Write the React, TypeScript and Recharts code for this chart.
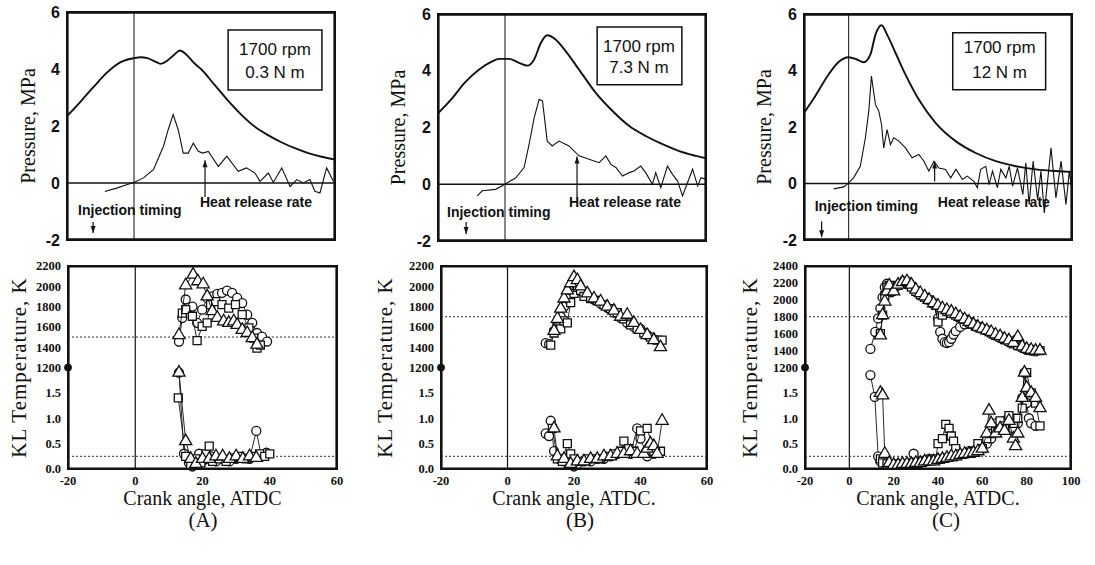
import React from "react";
import {
  ComposedChart,
  Line,
  Scatter,
  XAxis,
  YAxis,
  ZAxis,
  ReferenceLine,
  ReferenceDot,
  ReferenceArea,
} from "recharts";

type Pt = [number, number];

// ---- top panels: cylinder pressure and heat release rate vs crank angle ----
const pressureA: Pt[] = [
  [-20, 2.35], [-16, 2.85], [-12, 3.38], [-8, 3.88], [-4, 4.24], [0, 4.38], [2, 4.41], [4, 4.38],
  [6, 4.28], [8, 4.18], [10, 4.3], [12, 4.5], [13.7, 4.65], [15.5, 4.52], [18, 4.2], [20, 4.0],
  [24, 3.45], [28, 2.9], [32, 2.4], [36, 1.98], [40, 1.68], [44, 1.43], [48, 1.22], [52, 1.05],
  [56, 0.92], [60, 0.82],
];
const heatA: Pt[] = [
  [-8.7, -0.3], [-5.2, -0.18], [-2.2, -0.06], [0, 0.02], [2.8, 0.18], [5.8, 0.47], [8.8, 1.29],
  [10.2, 1.87], [11.7, 2.4], [13.2, 1.87], [14.7, 1.05], [16.2, 1.05], [17.7, 1.4], [19.2, 1.11],
  [20.5, 1.05], [22.2, 1.11], [25.2, 0.58], [27.7, 0.94], [31.1, 0.41], [33.6, 0.53], [36.1, 0.35],
  [37.6, 0.06], [40.1, 0.35], [41.6, 0.02], [44.1, 0.53], [46.6, -0.12], [48.6, 0.12], [50.6, 0],
  [52.5, 0.12], [54, -0.29], [55.5, -0.35], [57.5, 0.53], [59.5, 0.06],
];
const pressureB: Pt[] = [
  [-20, 2.5], [-16, 3.0], [-12, 3.58], [-8, 4.02], [-4, 4.32], [-1.8, 4.42], [1.2, 4.42],
  [4.2, 4.28], [6.7, 4.18], [8.7, 4.4], [10.7, 4.98], [12.6, 5.25], [15.1, 5.1], [18.1, 4.69],
  [22.1, 4.04], [27.1, 3.22], [32.1, 2.58], [37.1, 2.05], [42, 1.7], [47, 1.41], [52, 1.17],
  [57, 1.0], [60, 0.91],
];
const heatB: Pt[] = [
  [-8.3, -0.41], [-6.8, -0.23], [-2.8, -0.18], [0, 0], [3.2, 0.23], [5.7, 0.59], [7.2, 1.41],
  [8.7, 2.34], [10.2, 2.99], [11.2, 2.93], [12.6, 1.52], [14.1, 1.35], [16.1, 1.52], [19.1, 1.35],
  [22.1, 1.0], [25.1, 0.88], [28.1, 0.76], [30.1, 1.0], [31.6, 0.7], [33.1, 0.59], [35.1, 0.29],
  [37.1, 0.41], [38.5, 0.47], [40.5, 0.64], [42, 0.41], [44, 0], [45, 0.41], [46.5, -0.12],
  [48.5, 0.64], [50, 0.35], [51.5, 0.12], [53, -0.41], [54.5, 0.06], [56, 0.53], [57.5, -0.06],
  [58.5, 0.23], [59.8, 0.18],
];
const pressureC: Pt[] = [
  [-20, 2.5], [-15, 3.09], [-9, 3.86], [-4.5, 4.3], [0, 4.47], [3.7, 4.39], [6.7, 4.29],
  [9.7, 4.56], [12, 5.27], [14.7, 5.6], [17.2, 5.27], [21, 4.62], [25.4, 3.86], [31.4, 2.97],
  [38.9, 2.15], [47.9, 1.5], [56.9, 1.08], [65.9, 0.79], [74.9, 0.61], [83.8, 0.5], [92.8, 0.44],
  [100, 0.41],
];
const heatC: Pt[] = [
  [-6.7, -0.19], [-2.2, -0.12], [0, 0.02], [2.2, 0.2], [5.2, 0.61], [7.5, 1.62], [9, 2.56],
  [10.2, 3.8], [12, 2.79], [13.5, 2.56], [14.7, 2.09], [15.7, 1.26], [17.2, 1.91], [18.7, 1.38],
  [20.2, 1.62], [22.5, 1.5], [25.4, 1.26], [28.4, 0.91], [31.4, 1.03], [33.7, 0.79], [35.9, 0.44],
  [38.2, 0.79], [40.4, 0.55], [43.4, 0.5], [45.7, 0.2], [48, 0.5], [51, 0.14], [53.1, 0.26],
  [56.1, 0.08], [57.6, -0.15], [59.1, 0.5], [61.4, 0.61], [62.9, -0.04], [64.4, 0.44],
  [66.6, -0.15], [68.1, 0.5], [70.4, 0.2], [71.9, 0.61], [73.4, -0.09], [75.6, 0.55], [78, -0.39],
  [79.3, 0.73], [80.8, -0.74], [82.6, 0.79], [84.6, -0.57], [86.1, 0.44], [87.6, -1.04],
  [90.6, 1.26], [92.8, -0.51], [95.1, 0.79], [97.3, -0.74], [98.8, 0.44], [100, -0.27],
];

// ---- bottom panels: flame temperature (K) ----
const tempCircleA: Pt[] = [
  [13, 1455], [14, 1690], [15, 1870], [16, 1790], [17, 1800], [18.4, 1640], [19.9, 1770],
  [21.4, 1885], [22.9, 1900], [24.4, 1925], [25.8, 1935], [27.3, 1958], [28.8, 1935], [30.3, 1885],
  [31.8, 1835], [33.3, 1720], [34.8, 1640], [36.2, 1540], [37.7, 1505], [39.2, 1455],
];
const tempSquareA: Pt[] = [
  [14, 1735], [15, 1770], [17, 1705], [18.4, 1465], [19.9, 1605], [21.4, 1640], [22.4, 1820],
  [23.9, 1850], [25.8, 1820], [27.8, 1785], [29.8, 1820], [31.8, 1720], [33.8, 1590], [35.2, 1490],
  [36.2, 1390], [37.2, 1420],
];
const tempTriangleA: Pt[] = [
  [13, 1520], [15, 2010], [17.2, 2115], [18.6, 2050], [20.2, 2020], [21.4, 1900], [22.9, 1755],
  [24.4, 1690], [26.3, 1655], [27.8, 1640], [29.3, 1655], [30.3, 1620], [31.8, 1570], [33.3, 1540],
  [34.8, 1490], [36.2, 1425],
];
const tempCircleB: Pt[] = [
  [11.5, 1440], [12.5, 1430], [14, 1560], [15, 1620], [16, 1700], [17, 1800], [18, 1880],
  [19, 1960], [20, 2010], [21, 2000], [22, 1950], [24, 1900], [26, 1870], [28, 1830], [30, 1790],
  [32, 1740], [34, 1690], [36, 1640], [38, 1600], [40, 1580], [42, 1520], [44, 1480],
];
const tempSquareB: Pt[] = [
  [13, 1420], [14, 1540], [15, 1600], [16, 1580], [17, 1660], [18, 1640], [19, 1840], [20, 1930],
  [21, 1990], [22, 1960], [23, 1900], [25, 1880], [27, 1860], [29, 1820], [31, 1780], [33, 1740],
  [35, 1680], [37, 1620], [39, 1580], [41, 1540], [43, 1500], [45, 1470], [46.5, 1470],
];
const tempTriangleB: Pt[] = [
  [14, 1560], [15, 1680], [16, 1780], [17, 1880], [18, 1960], [19, 2030], [20, 2090], [21, 2060],
  [22, 2000], [24, 1930], [26, 1880], [28, 1850], [30, 1800], [32, 1760], [34, 1700], [36, 1720],
  [38, 1640], [40, 1570], [42, 1520], [44, 1470], [46, 1400],
];
const tempCircleC: Pt[] = [
  [9.5, 1420], [11.7, 1620], [13, 1780], [14, 1900], [15, 2030], [16, 2150], [17, 2190],
  [18, 2120], [19, 2090], [20, 2130], [22, 2170], [24, 2200], [26, 2210], [28, 2160], [30, 2110],
  [32, 2070], [34, 2030], [36, 2000], [38, 1950], [40, 1780], [41, 1620], [42, 1540], [43, 1500],
  [44, 1490], [45, 1500], [46, 1540], [47, 1590], [48, 1630], [50, 1680], [52, 1710], [54, 1720],
  [56, 1700], [58, 1680], [60, 1660], [62, 1640], [64, 1610], [66, 1580], [68, 1560], [70, 1540],
  [72, 1510], [74, 1490], [76, 1470], [78, 1440], [80, 1410], [82, 1400], [84, 1390],
];
const tempSquareC: Pt[] = [
  [14, 1600], [15, 1820], [16, 2050], [17, 2150], [18, 2170], [19, 2100], [20, 2120], [22, 2170],
  [24, 2200], [25, 2220], [26, 2210], [27, 2180], [28, 2150], [30, 2100], [32, 2060], [34, 2030],
  [36, 2000], [38, 1960], [40, 1740], [42, 1820], [44, 1860], [46, 1840], [48, 1820], [50, 1790],
  [52, 1770], [54, 1740], [56, 1710], [58, 1680], [60, 1660], [62, 1640], [64, 1610], [66, 1580],
  [68, 1560], [70, 1530], [72, 1510], [74, 1480], [76, 1460], [78, 1440], [80, 1420], [82, 1410],
  [84, 1400], [86, 1400],
];
const tempTriangleC: Pt[] = [
  [14, 1580], [15, 1820], [16, 1980], [17, 2100], [18, 2170], [20, 2100], [22, 2180], [24, 2210],
  [26, 2220], [28, 2180], [30, 2120], [32, 2080], [34, 2040], [36, 2000], [38, 1960], [40, 1930],
  [42, 1900], [44, 1880], [46, 1860], [48, 1830], [50, 1800], [52, 1770], [54, 1740], [56, 1710],
  [58, 1680], [60, 1660], [62, 1640], [64, 1620], [66, 1590], [68, 1570], [70, 1540], [72, 1520],
  [74, 1490], [76, 1560], [78, 1450], [80, 1420], [82, 1410], [84, 1400], [86, 1400],
];

// ---- bottom panels: KL factor ----
const klCircleA: Pt[] = [
  [13, 1.9], [14.5, 0.3], [16, 0.12], [17, 0.05], [18, 0.12], [19, 0.3], [20, 0.15], [21, 0.2],
  [22.5, 0.25], [24, 0.15], [26, 0.2], [28, 0.15], [30, 0.2], [32, 0.22], [34, 0.2], [36, 0.75],
  [37.5, 0.25], [39, 0.32],
];
const klSquareA: Pt[] = [
  [12.8, 1.4], [15, 0.25], [16.5, 0.08], [18, 0.2], [19.5, 0.12], [21, 0.3], [22, 0.45], [23, 0.15],
  [25, 0.2], [27, 0.15], [29, 0.22], [31, 0.25], [33, 0.2], [35, 0.25], [37, 0.3], [38.5, 0.25],
  [40, 0.3],
];
const klTriangleA: Pt[] = [
  [13, 1.9], [15, 0.55], [16.5, 0.2], [18, 0.1], [20, 0.2], [22, 0.2], [24, 0.25], [26, 0.25],
  [28, 0.2], [30, 0.25], [32, 0.2], [34, 0.25], [36, 0.22],
];
const klCircleB: Pt[] = [
  [11.5, 0.7], [12.5, 0.65], [13, 0.95], [14, 0.35], [15.5, 0.2], [17, 0.15], [19, 0.15], [20, 0.05],
  [21, 0.1], [23, 0.15], [25, 0.15], [27, 0.2], [29, 0.2], [31, 0.25], [33, 0.3], [35, 0.35],
  [37, 0.3], [39, 0.8], [40, 0.6], [42, 0.25], [44, 0.3],
];
const klSquareB: Pt[] = [
  [13.5, 0.8], [15, 0.2], [16.5, 0.15], [18, 0.5], [19, 0.3], [20, 0.2], [22, 0.15], [24, 0.2],
  [26, 0.2], [28, 0.2], [30, 0.25], [32, 0.3], [34, 0.35], [35, 0.55], [36.5, 0.4], [38, 0.35],
  [40, 0.75], [42, 0.8], [44, 0.35], [46, 0.35],
];
const klTriangleB: Pt[] = [
  [14, 0.8], [15, 0.25], [17, 0.2], [19, 0.1], [21, 0.15], [23, 0.15], [25, 0.2], [27, 0.2],
  [29, 0.25], [31, 0.25], [33, 0.3], [35, 0.3], [37, 0.35], [39, 0.3], [41, 0.3], [42, 0.4],
  [43, 0.5], [44, 0.45], [45, 0.3], [46.5, 0.95],
];
const klCircleC: Pt[] = [
  [9.5, 1.85], [11.5, 1.42], [13, 0.25], [14, 0.15], [16, 0.1], [18, 0.08], [20, 0.08], [22, 0.08],
  [24, 0.08], [26, 0.1], [28, 0.12], [29, 0.3], [30, 0.12], [32, 0.12], [34, 0.15], [36, 0.2],
  [38, 0.18], [40, 0.2], [42, 0.2], [44, 0.22], [46, 0.25], [48, 0.25], [50, 0.3], [52, 0.3],
  [54, 0.35], [56, 0.35], [58, 0.4], [60, 0.45], [62, 0.5], [64, 0.6], [66, 0.9], [68, 0.85],
  [70, 0.95], [72, 1.0], [74, 0.8], [76, 0.9], [78, 1.4], [79, 1.9], [80, 1.3], [81, 1.0],
  [82, 0.9], [84, 0.85],
];
const klSquareC: Pt[] = [
  [14, 0.2], [15, 0.12], [17, 0.1], [19, 0.08], [21, 0.1], [23, 0.1], [25, 0.08], [27, 0.1],
  [29, 0.12], [31, 0.12], [33, 0.15], [35, 0.15], [37, 0.18], [39, 0.2], [40, 0.5], [42, 0.6],
  [43.5, 0.88], [45, 0.8], [46, 0.65], [47, 0.55], [48, 0.4], [50, 0.3], [52, 0.3], [54, 0.32],
  [56, 0.35], [58, 0.5], [60, 0.4], [62, 0.6], [64, 0.7], [66, 0.75], [68, 0.95], [70, 0.85],
  [72, 1.05], [74, 0.9], [76, 1.0], [78, 1.2], [80, 1.9], [82, 1.5], [84, 1.3], [86, 0.85],
];
const klTriangleC: Pt[] = [
  [14, 1.5], [15, 1.45], [16, 0.3], [18, 0.12], [20, 0.08], [22, 0.08], [24, 0.1], [26, 0.1],
  [28, 0.1], [30, 0.12], [32, 0.12], [34, 0.15], [36, 0.15], [38, 0.15], [40, 0.18], [42, 0.2],
  [44, 0.22], [46, 0.25], [48, 0.25], [50, 0.28], [52, 0.3], [54, 0.3], [56, 0.32], [58, 0.35],
  [60, 0.4], [62, 0.7], [63, 1.15], [64, 0.9], [66, 0.7], [68, 0.8], [70, 0.75], [72, 0.95],
  [74, 0.6], [75, 0.45], [76, 0.7], [78, 1.4], [79, 1.9], [80, 1.6], [82, 1.5], [84, 1.4],
  [86, 1.2],
];

const loads = ["0.3 N m", "7.3 N m", "12 N m"];
const speed = "1700 rpm";
const panelNames = ["(A)", "(B)", "(C)"];
const xLabels = ["Crank angle, ATDC", "Crank angle, ATDC.", "Crank angle, ATDC."];
const pressureTicks = [-2, 0, 2, 4, 6];
const klTicks = [0, 0.5, 1, 1.5];
const tempTicksAB = [1200, 1400, 1600, 1800, 2000, 2200];
const tempTicksC = [1200, 1400, 1600, 1800, 2000, 2200, 2400];

const SANS = "'Liberation Sans', Arial, sans-serif";
const SERIF = "'Liberation Serif', 'Times New Roman', serif";
const INK = "#111";

const xy = (pts: Pt[]) => pts.map(([x, y]) => ({ x, y }));

type Rect = { left: number; right: number; top: number; bottom: number };

type Note = { x: number; y: number; text: string; anchor?: "start" | "middle" | "end"; size?: number };
type Arrow = { x: number; y1: number; y2: number; up: boolean };

type TopCfg = {
  rect: Rect;
  labelX: number;
  xMax: number;
  pressure: Pt[];
  heat: Pt[];
  box: { x1: number; x2: number; y1: number; y2: number };
  notes: Note[];
  arrows: Arrow[];
};

const textShape = (n: Note) => (d: any) => (
  <text
    x={d.cx}
    y={d.cy}
    textAnchor={n.anchor ?? "start"}
    dominantBaseline="central"
    fontFamily={SANS}
    fontWeight={n.size ? 400 : 700}
    fontSize={n.size ?? 14}
    fill={INK}
  >
    {n.text}
  </text>
);

const headShape = (up: boolean) => (d: any) => (
  <path
    d={
      up
        ? `M${d.cx},${d.cy} L${d.cx - 2.5},${d.cy + 7} L${d.cx + 2.5},${d.cy + 7} Z`
        : `M${d.cx},${d.cy} L${d.cx - 2.5},${d.cy - 7} L${d.cx + 2.5},${d.cy - 7} Z`
    }
    fill={INK}
  />
);

// four frame edges as thin reference areas just inside the plot limits
function frameEdges(xMin: number, xMax: number, yMin: number, yMax: number) {
  const ex = (xMax - xMin) * 0.006;
  const ey = (yMax - yMin) * 0.008;
  const edge = { fill: INK, fillOpacity: 1, stroke: "none", ifOverflow: "visible" as const };
  return [
    <ReferenceArea key="el" x1={xMin} x2={xMin + ex} y1={yMin} y2={yMax} {...edge} />,
    <ReferenceArea key="er" x1={xMax - ex} x2={xMax} y1={yMin} y2={yMax} {...edge} />,
    <ReferenceArea key="et" x1={xMin} x2={xMax} y1={yMax - ey} y2={yMax} {...edge} />,
    <ReferenceArea key="eb" x1={xMin} x2={xMax} y1={yMin} y2={yMin + ey} {...edge} />,
  ];
}

// plot border drawn over the chart, on the same rectangle as the plot area
function Frame({ rect }: { rect: Rect }) {
  return (
    <div
      style={{
        position: "absolute",
        zIndex: 5,
        left: rect.left - 1,
        top: rect.top - 1,
        width: rect.right - rect.left + 2,
        height: rect.bottom - rect.top + 2,
        outline: `2px solid ${INK}`,
        outlineOffset: -2,
        pointerEvents: "none",
      }}
    />
  );
}

function TopPanel({ rect, labelX, xMax, pressure, heat, box, notes, arrows }: TopCfg) {
  const yw = (rect.left - labelX) * 2;
  const mt = 10;
  const mr = 12;
  const xh = 8;
  const plotW = rect.right - rect.left;
  const plotH = rect.bottom - rect.top;
  return (
    <>
      <div style={{ position: "absolute", left: rect.left - yw, top: rect.top - mt }}>
        <ComposedChart
          width={yw + plotW + mr}
          height={mt + plotH + xh}
          margin={{ top: mt, right: mr, left: 0, bottom: 0 }}
        >
          <XAxis
            type="number"
            dataKey="x"
            domain={[-20, xMax]}
            tickFormatter={() => ""}
            height={xh}
            axisLine={false}
            tickLine={false}
          />
          <YAxis
            type="number"
            dataKey="y"
            domain={[-2, 6]}
            ticks={pressureTicks}
            interval={0}
            width={yw}
            tickSize={0}
            tickMargin={7}
            axisLine={false}
            tickLine={false}
            tick={{ fontFamily: SANS, fontSize: 16, fontWeight: 700, fill: INK }}
            label={{
              value: "Pressure, MPa",
              angle: -90,
              position: "center",
              style: { fontFamily: SERIF, fontSize: 20, fill: INK },
            }}
          />
          {frameEdges(-20, xMax, -2, 6)}
          <ReferenceLine y={0} stroke={INK} strokeWidth={1.5} />
          <ReferenceLine x={0} stroke={INK} strokeWidth={1} />
          <ReferenceArea
            x1={box.x1}
            x2={box.x2}
            y1={box.y1}
            y2={box.y2}
            fill="#fff"
            fillOpacity={1}
            stroke={INK}
            strokeWidth={1.5}
          />
          <Line
            data={xy(pressure)}
            dataKey="y"
            type="monotone"
            stroke={INK}
            strokeWidth={1.9}
            dot={false}
            isAnimationActive={false}
          />
          <Line
            data={xy(heat)}
            dataKey="y"
            type="linear"
            stroke={INK}
            strokeWidth={1.1}
            dot={false}
            isAnimationActive={false}
          />
          {arrows.map((a, i) => (
            <ReferenceLine
              key={"al" + i}
              segment={[
                { x: a.x, y: a.y1 },
                { x: a.x, y: a.y2 },
              ]}
              stroke={INK}
              strokeWidth={1.2}
              ifOverflow="visible"
            />
          ))}
          {arrows.map((a, i) => (
            <ReferenceDot
              key={"ah" + i}
              x={a.x}
              y={a.y2}
              r={3}
              ifOverflow="visible"
              shape={headShape(a.up)}
            />
          ))}
          {notes.map((n, i) => (
            <ReferenceDot key={"n" + i} x={n.x} y={n.y} r={1} ifOverflow="visible" shape={textShape(n)} />
          ))}
        </ComposedChart>
      </div>
      <Frame rect={rect} />
    </>
  );
}

type BottomCfg = {
  rect: Rect;
  labelX: number;
  xMax: number;
  span: number;
  tempTicks: number[];
  tempRef: number;
  temps: Pt[][];
  kls: Pt[][];
  xLabel: string;
};

const shapes = ["circle", "square", "triangle"] as const;

function BottomPanel({ rect, labelX, xMax, span, tempTicks, tempRef, temps, kls, xLabel }: BottomCfg) {
  const yw = (rect.left - labelX) * 2;
  const mt = 10;
  const mr = 12;
  const xh = 42;
  const plotW = rect.right - rect.left;
  const plotH = rect.bottom - rect.top;
  // temperature sits on the upper half of a split axis, KL on the lower half
  const tU = (t: number) => 2 + (t - 1200) / span;
  const yTicks = [...klTicks, ...tempTicks.map(tU)];
  const fmt = (v: number) => (v < 1.99 ? v.toFixed(1) : String(Math.round(1200 + (v - 2) * span)));
  const xTicks: number[] = [];
  for (let v = -20; v <= xMax; v += 20) xTicks.push(v);
  const tickStyle = { fontFamily: SERIF, fontSize: 12.5, fontWeight: 700, fill: INK };
  return (
    <>
      <div style={{ position: "absolute", left: rect.left - yw, top: rect.top - mt }}>
        <ComposedChart
          width={yw + plotW + mr}
          height={mt + plotH + xh}
          margin={{ top: mt, right: mr, left: 0, bottom: 0 }}
        >
          <XAxis
            type="number"
            dataKey="x"
            domain={[-20, xMax]}
            ticks={xTicks}
            interval={0}
            height={xh}
            tickSize={0}
            tickMargin={7}
            axisLine={false}
            tickLine={false}
            tick={tickStyle}
            label={{
              value: xLabel,
              position: "insideBottom",
              offset: 6,
              style: { fontFamily: SERIF, fontSize: 20, fill: INK },
            }}
          />
          <YAxis
            type="number"
            dataKey="y"
            domain={[0, 4]}
            ticks={yTicks}
            interval={0}
            tickFormatter={fmt}
            width={yw}
            tickSize={0}
            tickMargin={7}
            axisLine={false}
            tickLine={false}
            tick={tickStyle}
            label={{
              value: "KL Temperature, K",
              angle: -90,
              position: "center",
              style: { fontFamily: SERIF, fontSize: 21, letterSpacing: 1, fill: INK },
            }}
          />
          <ZAxis range={[42, 42]} />
          {frameEdges(-20, xMax, 0, 4)}
          <ReferenceLine x={0} stroke={INK} strokeWidth={1.2} />
          <ReferenceLine y={tU(tempRef)} stroke="#333" strokeWidth={1} strokeDasharray="2 2" />
          <ReferenceLine y={0.25} stroke="#333" strokeWidth={1} strokeDasharray="2 2" />
          {temps.map((s, i) => (
            <Scatter
              key={"t" + i}
              data={s.map(([x, t]) => ({ x, y: tU(t) }))}
              shape={shapes[i]}
              fill="#fff"
              stroke={INK}
              strokeWidth={1.3}
              line={{ stroke: INK, strokeWidth: 0.9 }}
              lineType="joint"
              isAnimationActive={false}
            />
          ))}
          {kls.map((s, i) => (
            <Scatter
              key={"k" + i}
              data={xy(s)}
              shape={shapes[i]}
              fill="#fff"
              stroke={INK}
              strokeWidth={1.3}
              line={{ stroke: INK, strokeWidth: 0.9 }}
              lineType="joint"
              isAnimationActive={false}
            />
          ))}
          <ReferenceDot x={-20} y={2} r={3.5} fill={INK} stroke={INK} ifOverflow="visible" />
        </ComposedChart>
      </div>
      <Frame rect={rect} />
    </>
  );
}

export default function App() {
  return (
    <div
      style={{
        position: "absolute",
        left: 0,
        top: 0,
        width: 1095,
        height: 565,
        background: "#fff",
        overflow: "hidden",
      }}
    >
      <TopPanel
        rect={{ left: 67, right: 335, top: 12, bottom: 240 }}
        labelX={28}
        xMax={60}
        pressure={pressureA}
        heat={heatA}
        box={{ x1: 28.1, x2: 56.1, y1: 3.26, y2: 5.37 }}
        notes={[
          { x: 42.1, y: 4.67, text: speed, anchor: "middle", size: 17 },
          { x: 42.1, y: 3.86, text: loads[0], anchor: "middle", size: 17 },
          { x: -16.7, y: -0.95, text: "Injection timing" },
          { x: 19.7, y: -0.67, text: "Heat release rate" },
        ]}
        arrows={[
          { x: -12.2, y1: -1.37, y2: -1.75, up: false },
          { x: 21.2, y1: -0.49, y2: 0.8, up: true },
        ]}
      />
      <TopPanel
        rect={{ left: 438, right: 706, top: 14, bottom: 241 }}
        labelX={398}
        xMax={60}
        pressure={pressureB}
        heat={heatB}
        box={{ x1: 27.5, x2: 52.8, y1: 3.51, y2: 5.54 }}
        notes={[
          { x: 40, y: 4.84, text: speed, anchor: "middle", size: 17 },
          { x: 40, y: 4.1, text: loads[1], anchor: "middle", size: 17 },
          { x: -17.3, y: -0.98, text: "Injection timing" },
          { x: 19.1, y: -0.63, text: "Heat release rate" },
        ]}
        arrows={[
          { x: -11.6, y1: -1.33, y2: -1.75, up: false },
          { x: 21.5, y1: -0.46, y2: 0.98, up: true },
        ]}
      />
      <TopPanel
        rect={{ left: 804, right: 1072, top: 14, bottom: 240 }}
        labelX={764}
        xMax={100}
        pressure={pressureC}
        heat={heatC}
        box={{ x1: 46.6, x2: 88.2, y1: 3.32, y2: 5.34 }}
        notes={[
          { x: 67.6, y: 4.8, text: speed, anchor: "middle", size: 17 },
          { x: 67.6, y: 3.92, text: loads[2], anchor: "middle", size: 17 },
          { x: -15.2, y: -0.81, text: "Injection timing" },
          { x: 39.9, y: -0.64, text: "Heat release rate" },
        ]}
        arrows={[
          { x: -12.1, y1: -1.34, y2: -1.9, up: false },
          { x: 38.5, y1: 0.07, y2: 0.78, up: true },
        ]}
      />
      <BottomPanel
        rect={{ left: 68, right: 337, top: 266, bottom: 469 }}
        labelX={19}
        xMax={60}
        span={500}
        tempTicks={tempTicksAB}
        tempRef={1500}
        temps={[tempCircleA, tempSquareA, tempTriangleA]}
        kls={[klCircleA, klSquareA, klTriangleA]}
        xLabel={xLabels[0]}
      />
      <BottomPanel
        rect={{ left: 441, right: 707, top: 266, bottom: 469 }}
        labelX={385}
        xMax={60}
        span={500}
        tempTicks={tempTicksAB}
        tempRef={1700}
        temps={[tempCircleB, tempSquareB, tempTriangleB]}
        kls={[klCircleB, klSquareB, klTriangleB]}
        xLabel={xLabels[1]}
      />
      <BottomPanel
        rect={{ left: 805, right: 1071, top: 266, bottom: 469 }}
        labelX={750}
        xMax={100}
        span={600}
        tempTicks={tempTicksC}
        tempRef={1800}
        temps={[tempCircleC, tempSquareC, tempTriangleC]}
        kls={[klCircleC, klSquareC, klTriangleC]}
        xLabel={xLabels[2]}
      />
      {panelNames.map((name, i) => (
        <div
          key={name}
          style={{
            position: "absolute",
            left: [203, 580, 946][i] - 30,
            top: 508,
            width: 60,
            textAlign: "center",
            fontFamily: SERIF,
            fontSize: 21,
            color: INK,
          }}
        >
          {name}
        </div>
      ))}
    </div>
  );
}
